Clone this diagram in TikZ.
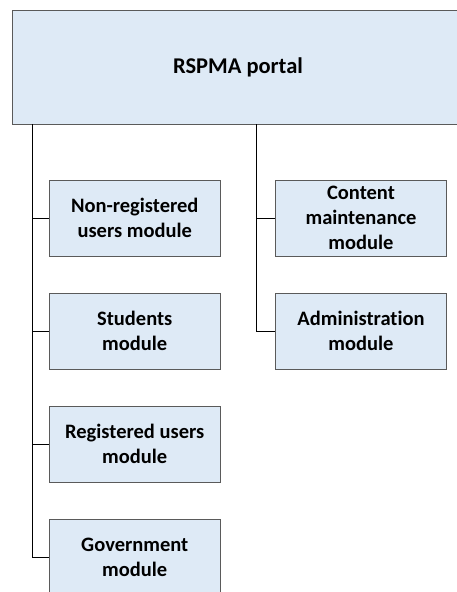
\documentclass[tikz,border=0pt]{standalone}
\usepackage{fontspec}
\setmainfont{Carlito}[RawFeature=-liga]
\definecolor{boxfill}{RGB}{222,234,246}
\definecolor{boxline}{RGB}{90,90,90}
\begin{document}
\begin{tikzpicture}[x=1pt,y=-1pt,
  modbox/.style={draw=boxline, fill=boxfill, line width=1pt, minimum width=170.5pt, minimum height=76pt,
    inner sep=2pt, align=center, font=\fontsize{20.5}{25}\selectfont\bfseries},
  topbox/.style={draw=boxline, fill=boxfill, line width=1pt, minimum width=452pt, minimum height=114pt,
    font=\fontsize{22.5}{27}\selectfont\bfseries},
  conn/.style={draw=black, line width=0.9pt}]
\useasboundingbox (0,0) rectangle (457,592);
\node[topbox] (top) at (238,67) {RSPMA portal};
\node[modbox] (n1) at (134.75,218) {Non-registered\\users module};
\node[modbox] (n2) at (134.75,331) {Students\\module};
\node[modbox] (n3) at (134.75,444) {Registered users\\module};
\node[modbox] (n4) at (134.75,557) {Government\\module};
\node[modbox] (r1) at (361,218) {Content\\maintenance\\module};
\node[modbox] (r2) at (361,331) {Administration\\module};
\coordinate (tl) at (32.5,124);
\coordinate (tr) at (256.7,124);
\draw[conn] (tl) |- (n4.west);
\draw[conn] (tl |- n1.west) -- (n1.west);
\draw[conn] (tl |- n2.west) -- (n2.west);
\draw[conn] (tl |- n3.west) -- (n3.west);
\draw[conn] (tr) |- (r2.west);
\draw[conn] (tr |- r1.west) -- (r1.west);
\end{tikzpicture}
\end{document}
